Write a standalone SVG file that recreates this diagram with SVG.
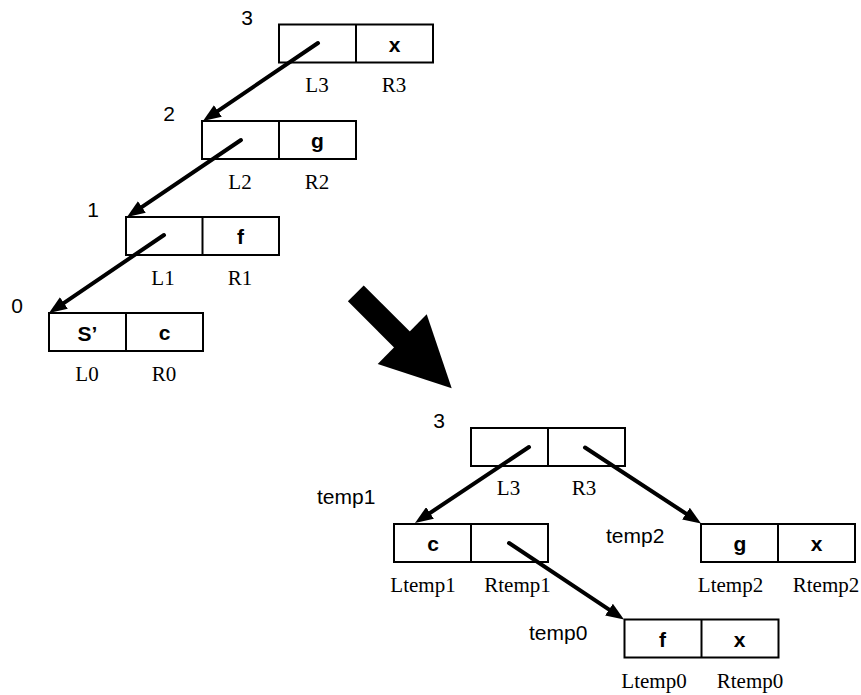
<svg xmlns="http://www.w3.org/2000/svg" width="861" height="695" viewBox="0 0 861 695">
<defs>
<style>
.box{fill:#fff;stroke:#000;stroke-width:2}
.div{stroke:#000;stroke-width:2}
.v{font-family:"Liberation Sans",Arial,sans-serif;font-weight:bold;font-size:21px;text-anchor:middle}
.n{font-family:"Liberation Sans",Arial,sans-serif;font-size:21px}
.c{text-anchor:middle}
.t{font-family:"Liberation Serif","Times New Roman",serif;font-size:21px;text-anchor:middle}
.e{fill:none;stroke:#000;stroke-width:4;stroke-linecap:round;marker-end:url(#ah)}
</style>
<marker id="ah" markerUnits="userSpaceOnUse" markerWidth="18" markerHeight="14" viewBox="0 0 18 14" refX="6" refY="7" orient="auto">
<path d="M0,0 L18,7 L0,14 z" fill="#000"/>
</marker>
</defs>
<rect width="861" height="695" fill="#fff"/>

<g id="n3">
<rect class="box" x="279" y="24.5" width="154" height="38"/>
<line class="div" x1="356" y1="24.5" x2="356" y2="62.5"/>
<text class="n c" x="247" y="25">3</text>
<text class="v" x="394.5" y="52">x</text>
<text class="t" x="317" y="92">L3</text>
<text class="t" x="394" y="92">R3</text>
</g>
<g id="n2">
<rect class="box" x="202" y="121" width="154" height="38"/>
<line class="div" x1="279" y1="121" x2="279" y2="159"/>
<text class="n c" x="169" y="121">2</text>
<text class="v" x="317.5" y="148">g</text>
<text class="t" x="240" y="189">L2</text>
<text class="t" x="317" y="189">R2</text>
</g>
<g id="n1">
<rect class="box" x="126" y="217" width="153" height="38"/>
<line class="div" x1="202.5" y1="217" x2="202.5" y2="255"/>
<text class="n c" x="93" y="217">1</text>
<text class="v" x="240.5" y="244">f</text>
<text class="t" x="163" y="285">L1</text>
<text class="t" x="240" y="285">R1</text>
</g>
<g id="n0">
<rect class="box" x="49" y="313" width="154" height="38"/>
<line class="div" x1="126" y1="313" x2="126" y2="351"/>
<text class="n c" x="17" y="313">0</text>
<text class="v" x="87.5" y="341">S’</text>
<text class="v" x="164.5" y="340">c</text>
<text class="t" x="87" y="381">L0</text>
<text class="t" x="164" y="381">R0</text>
</g>

<g id="bigarrow">
<line x1="355.8" y1="293.3" x2="410" y2="347.5" stroke="#000" stroke-width="22.4"/>
<polygon points="377.7,364 426.7,314.3 451.7,388.3" fill="#000"/>
</g>

<g id="m3">
<rect class="box" x="471" y="428" width="154" height="38"/>
<line class="div" x1="548" y1="428" x2="548" y2="466"/>
<text class="n c" x="439" y="428">3</text>
<text class="t" x="508.5" y="495">L3</text>
<text class="t" x="584" y="495">R3</text>
</g>
<g id="mtemp1">
<rect class="box" x="394" y="524" width="154" height="38"/>
<line class="div" x1="471" y1="524" x2="471" y2="562"/>
<text class="n" x="317" y="504">temp1</text>
<text class="v" x="433" y="551">c</text>
<text class="t" x="423" y="592">Ltemp1</text>
<text class="t" x="517.5" y="592">Rtemp1</text>
</g>
<g id="mtemp2">
<rect class="box" x="701" y="524" width="154" height="38"/>
<line class="div" x1="778" y1="524" x2="778" y2="562"/>
<text class="n" x="606" y="543">temp2</text>
<text class="v" x="740" y="551">g</text>
<text class="v" x="816.5" y="551">x</text>
<text class="t" x="730.5" y="592">Ltemp2</text>
<text class="t" x="826" y="592">Rtemp2</text>
</g>
<g id="mtemp0">
<rect class="box" x="624.5" y="619.5" width="154" height="38"/>
<line class="div" x1="701.5" y1="619.5" x2="701.5" y2="657.5"/>
<text class="n" x="529" y="640">temp0</text>
<text class="v" x="662.5" y="647">f</text>
<text class="v" x="739.5" y="647">x</text>
<text class="t" x="654" y="688">Ltemp0</text>
<text class="t" x="750" y="688">Rtemp0</text>
</g>

<g id="connectors">
<line class="e" x1="318" y1="43" x2="212.9" y2="114.3"/>
<line class="e" x1="241" y1="140" x2="136.9" y2="210.3"/>
<line class="e" x1="164" y1="235" x2="58.9" y2="306.3"/>
<line class="e" x1="529" y1="447" x2="425" y2="516.3"/>
<line class="e" x1="585" y1="447.5" x2="691" y2="516.9"/>
<line class="e" x1="509" y1="543" x2="614" y2="612.9"/>
</g>
</svg>
